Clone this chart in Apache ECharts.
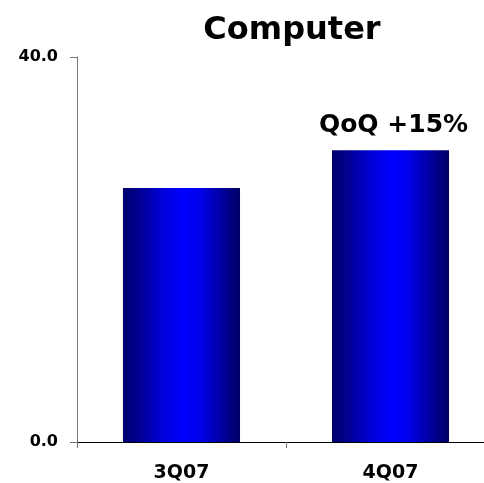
<!DOCTYPE html>
<html><head><meta charset="utf-8">
<script src="https://cdn.jsdelivr.net/npm/echarts@6/dist/echarts.min.js"></script>
<style>html,body{margin:0;padding:0;background:#fff;overflow:hidden;width:484px;height:483px}#c{width:495px;height:483px}</style>
</head><body><div id="c"></div>
<script>
const categories = ['3Q07', '4Q07'];
const values = [26.4, 30.3];
const barLabels = ['', 'QoQ +15%'];
const yTicks = [0, 40];
const titleText = 'Computer';

const FONT = 'DejaVu Sans';
const chart = echarts.init(document.getElementById('c'), null, {renderer: 'canvas'});
const grad = new echarts.graphic.LinearGradient(0, 0, 1, 0, [
  {offset: 0, color: '#00006c'},
  {offset: 0.12, color: '#00008c'},
  {offset: 0.35, color: '#0000dc'},
  {offset: 0.52, color: '#0000ff'},
  {offset: 0.65, color: '#0000ec'},
  {offset: 0.88, color: '#000090'},
  {offset: 1, color: '#000064'}
]);
chart.setOption({
  animation: false,
  title: {
    text: titleText, left: 287, top: 10, textAlign: 'center',
    textStyle: {fontFamily: FONT, fontWeight: 'bold', fontSize: 32, color: '#000'}
  },
  grid: {left: 77, top: 57, bottom: 40, right: 0, containLabel: false},
  xAxis: {
    type: 'category', data: categories,
    axisLine: {lineStyle: {color: '#000', width: 1}},
    axisTick: {show: true, alignWithLabel: false, length: 6, lineStyle: {color: '#777'}},
    axisLabel: {margin: 22, fontFamily: FONT, fontWeight: 'bold', fontSize: 19, color: '#000'}
  },
  yAxis: {
    type: 'value', min: yTicks[0], max: yTicks[1], interval: yTicks[1] - yTicks[0],
    splitLine: {show: false},
    axisLine: {show: true, lineStyle: {color: '#777', width: 1}},
    axisTick: {show: true, length: 7, lineStyle: {color: '#777'}},
    axisLabel: {margin: 19, fontFamily: FONT, fontWeight: 'bold', fontSize: 16, color: '#000',
      formatter: v => v.toFixed(1)}
  },
  series: [{
    type: 'bar', barWidth: '56%',
    data: values.map((v, i) => ({
      value: v,
      label: {show: !!barLabels[i], formatter: barLabels[i]}
    })),
    itemStyle: {color: grad},
    label: {position: 'top', distance: 12, offset: [3, 0], fontFamily: FONT, fontWeight: 'bold', fontSize: 25, color: '#000'}
  }]
});
</script></body></html>
